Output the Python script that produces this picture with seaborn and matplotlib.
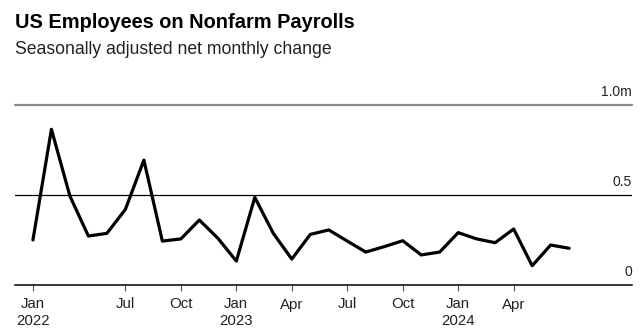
import matplotlib
matplotlib.use("Agg")
import matplotlib.pyplot as plt
import seaborn as sns
import pandas as pd

# Data: seasonally adjusted net monthly change in nonfarm payrolls (millions)
month_index = list(range(30))
payroll_change = [0.25, 0.865, 0.494, 0.272, 0.287, 0.42, 0.694, 0.244, 0.256, 0.361,
                  0.26, 0.133, 0.487, 0.287, 0.144, 0.281, 0.306, 0.244, 0.183, 0.213,
                  0.246, 0.167, 0.183, 0.291, 0.256, 0.235, 0.311, 0.107, 0.222, 0.204]
tick_positions = [0, 5, 8, 11, 14, 17, 20, 23, 26]
tick_labels = ["Jan\n2022", "Jul", "Oct", "Jan\n2023", "Apr", "Jul", "Oct", "Jan\n2024", "Apr"]
y_ticks = [0, 0.5, 1.0]
y_tick_labels = ["0", "0.5", "1.0m"]

df = pd.DataFrame({"idx": month_index, "value": payroll_change})

sns.set_theme(style="white")
plt.rcParams["font.family"] = ["Liberation Sans", "DejaVu Sans"]

fig = plt.figure(figsize=(6.44, 3.34), dpi=100)
ax = fig.add_axes([15 / 644, (334 - 285) / 334, 617 / 644, 180 / 334])

sns.lineplot(data=df, x="idx", y="value", ax=ax, color="black", linewidth=2.3)

ax.set_xlim(-0.97, 32.4)
ax.set_ylim(0, 1.0)

# gridlines
ax.axhline(1.0, color="#8a8a8a", linewidth=1.6, zorder=0, clip_on=False)
ax.axhline(0.5, color="black", linewidth=0.9, zorder=0)

for s in ["top", "right", "left"]:
    ax.spines[s].set_visible(False)
ax.spines["bottom"].set_color("black")
ax.spines["bottom"].set_linewidth(1.1)

ax.set_xticks(tick_positions)
ax.set_xticklabels(tick_labels, fontsize=10.8, color="#222222", linespacing=1.25)
ax.tick_params(axis="x", bottom=True, length=4, width=0.8, color="#555555", pad=5)
ax.set_yticks([])
ax.set_xlabel("")
ax.set_ylabel("")

for v, lab in zip(y_ticks, y_tick_labels):
    ax.annotate(lab, xy=(1.0, v), xycoords=("axes fraction", "data"),
                xytext=(0, 4), textcoords="offset points",
                ha="right", va="bottom", fontsize=10, color="#222222",
                annotation_clip=False)

fig.text(15 / 644, 1 - 28.3 / 334, "US Employees on Nonfarm Payrolls",
         fontsize=14.4, fontweight="bold", ha="left", va="baseline", color="black")
fig.text(15 / 644, 1 - 54.3 / 334, "Seasonally adjusted net monthly change",
         fontsize=12.7, ha="left", va="baseline", color="#222222")

fig.savefig("out.png", dpi=100)
